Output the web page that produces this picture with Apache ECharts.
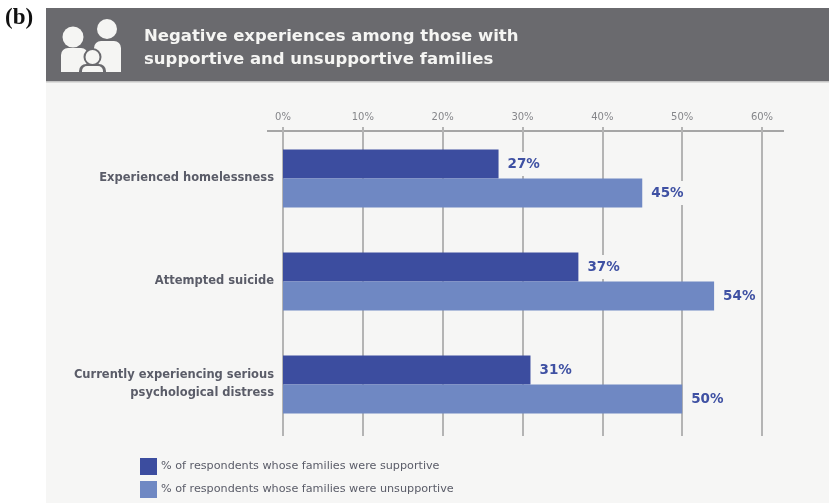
<!DOCTYPE html>
<html>
<head>
<meta charset="utf-8">
<style>html,body{margin:0;padding:0;background:#fff}#chart{width:829px;height:503px}</style>
<script src="https://cdn.jsdelivr.net/npm/echarts@6/dist/echarts.min.js"></script>
</head>
<body>
<div id="chart"></div>
<script>
// Survey outcomes by family support
const categories = ['Experienced homelessness', 'Attempted suicide', 'Currently experiencing serious\npsychological distress'];
const supportive = [27, 37, 31];
const unsupportive = [45, 54, 50];
const seriesNames = ['% of respondents whose families were supportive', '% of respondents whose families were unsupportive'];
const titleLines = 'Negative experiences among those with\nsupportive and unsupportive families';

const PANEL = '#f6f6f5', HEADER = '#6a6a6e', ICON = '#f5f5f3';
const DARK = '#3c4d9f', LIGHT = '#6f88c3', INK = '#5a5c68', RULE = '#b4b4b4';
const FONT = '"DejaVu Sans", Inter, sans-serif';

const barSeries = (name, data, color) => ({
  name, data, type: 'bar', barWidth: 29, barGap: '0%', itemStyle: {color},
  label: {
    show: true, position: 'right', distance: 3, formatter: '{c}%',
    fontFamily: FONT, fontWeight: 700, fontSize: 13.5, color: '#3f51a3',
    backgroundColor: PANEL, padding: [5, 2, 5, 6]
  }
});

const chart = echarts.init(document.getElementById('chart'), null, {renderer: 'canvas'});
chart.setOption({
  animation: false,
  backgroundColor: '#fff',
  textStyle: {fontFamily: FONT},
  grid: {left: 283, right: 67, top: 127, bottom: 67, containLabel: false},
  xAxis: {
    type: 'value', position: 'top', min: 0, max: 60, interval: 10, offset: -4,
    axisLine: {show: false}, axisTick: {show: false},
    axisLabel: {formatter: '{value}%', color: '#85868a', fontSize: 10, margin: 9, fontFamily: FONT},
    splitLine: {show: true, lineStyle: {color: RULE, width: 2}}
  },
  yAxis: {
    type: 'category', data: categories, inverse: true,
    axisLine: {show: false}, axisTick: {show: false},
    axisLabel: {color: INK, fontSize: 11.5, fontWeight: 700, lineHeight: 18, margin: 9, align: 'right', fontFamily: FONT}
  },
  legend: {
    orient: 'vertical', left: 140, top: 458, height: 45, padding: 0,
    itemWidth: 17, itemHeight: 17, itemGap: 6,
    icon: 'rect', selectedMode: false,
    textStyle: {color: INK, fontSize: 11.2, padding: [0, 0, 0, -1], fontFamily: FONT}
  },
  series: [barSeries(seriesNames[0], supportive, DARK), barSeries(seriesNames[1], unsupportive, LIGHT)],
  graphic: [
    {type: 'rect', z: -10, shape: {x: 46, y: 82, width: 783, height: 421}, style: {fill: PANEL}},
    {type: 'rect', z: -9, shape: {x: 46, y: 8, width: 783, height: 73}, style: {fill: HEADER}},
    {type: 'rect', z: -9, shape: {x: 46, y: 81, width: 783, height: 1.5}, style: {fill: '#c4c4c4'}},
    // horizontal rule carrying the percentage scale
    {type: 'rect', z: -1, shape: {x: 267, y: 130, width: 517, height: 2}, style: {fill: '#a6a6a6'}},
    {type: 'text', left: 5, top: 7, style: {text: '(b)', font: 'bold 23px "Liberation Serif", serif', fill: '#111'}},
    {type: 'text', left: 144, top: 25, style: {text: titleLines, font: '700 16.5px ' + FONT, lineHeight: 23, fill: ICON}},
    // family pictogram
    {type: 'circle', shape: {cx: 107, cy: 29, r: 10}, style: {fill: ICON}},
    {type: 'circle', shape: {cx: 73, cy: 37, r: 10.5}, style: {fill: ICON}},
    {type: 'rect', shape: {x: 61, y: 48, width: 27, height: 24, r: [7, 7, 0, 0]}, style: {fill: ICON}},
    {type: 'rect', shape: {x: 94, y: 41, width: 27, height: 31, r: [7, 7, 0, 0]}, style: {fill: ICON}},
    {type: 'circle', shape: {cx: 92.5, cy: 57, r: 9}, style: {fill: HEADER}},
    {type: 'circle', shape: {cx: 92.5, cy: 57, r: 7}, style: {fill: ICON}},
    {type: 'rect', shape: {x: 79, y: 64, width: 27, height: 8, r: [7, 7, 0, 0]}, style: {fill: HEADER}},
    {type: 'rect', shape: {x: 82, y: 66, width: 21, height: 6, r: [5, 5, 0, 0]}, style: {fill: ICON}}
  ]
});
</script>
</body>
</html>
